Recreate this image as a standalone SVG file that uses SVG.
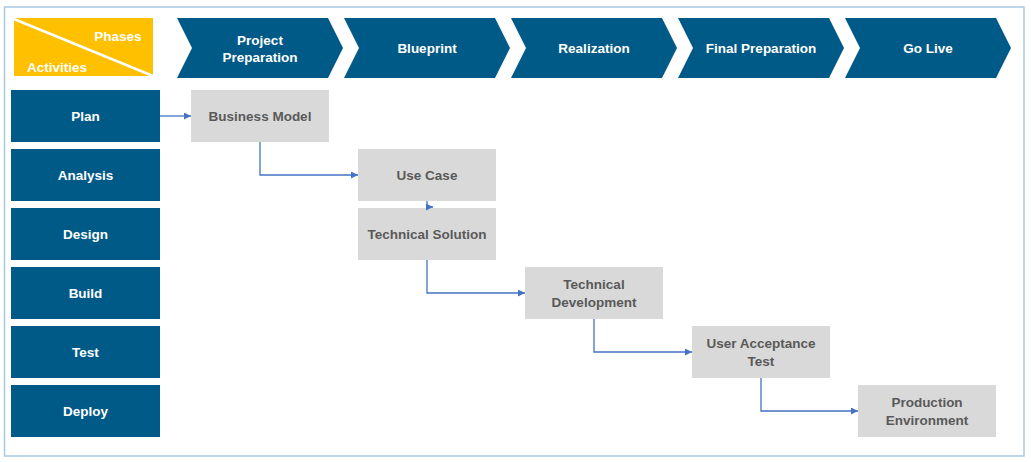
<svg xmlns="http://www.w3.org/2000/svg" width="1031" height="462" viewBox="0 0 1031 462">
<style>
text{font-family:"Liberation Sans",Arial,sans-serif;font-weight:bold;font-size:13.5px;text-anchor:middle;dominant-baseline:central}
.ph{fill:#005a87}
.act rect{fill:#005a87}
.w{fill:#ffffff}
.g rect{fill:#d9d9d9}
.g text{fill:#595959}
.c{fill:none;stroke:#4472c4;stroke-width:1.3}
</style>
<defs>
<marker id="ah" viewBox="0 0 10 10" refX="10" refY="5" markerWidth="7" markerHeight="7" markerUnits="userSpaceOnUse" orient="auto">
<path d="M0,0 L10,5 L0,10 z" fill="#4472c4"/>
</marker>
</defs>
<rect x="0" y="0" width="1031" height="462" fill="#ffffff"/>
<rect x="4.5" y="7" width="1019.5" height="449" fill="none" stroke="#a9c9e0" stroke-width="1.5"/>
<g id="corner">
<rect x="14" y="18" width="139" height="58" fill="#ffc000"/>
<line x1="14" y1="19" x2="153" y2="76" stroke="#ffffff" stroke-width="2.5"/>
<text class="w" x="118" y="36">Phases</text>
<text class="w" x="57" y="67">Activities</text>
</g>
<g id="phase1"><path class="ph" d="M177,18 H328 L343,48 L328,78 H177 L192,48 Z"/><text class="w" x="260" y="40">Project</text><text class="w" x="260" y="57">Preparation</text></g>
<g id="phase2"><path class="ph" d="M344,18 H495 L510,48 L495,78 H344 L359,48 Z"/><text class="w" x="427" y="48">Blueprint</text></g>
<g id="phase3"><path class="ph" d="M511,18 H662 L677,48 L662,78 H511 L526,48 Z"/><text class="w" x="594" y="48">Realization</text></g>
<g id="phase4"><path class="ph" d="M678,18 H829 L844,48 L829,78 H678 L693,48 Z"/><text class="w" x="761" y="48">Final Preparation</text></g>
<g id="phase5"><path class="ph" d="M845,18 H996 L1011,48 L996,78 H845 L860,48 Z"/><text class="w" x="928" y="48">Go Live</text></g>
<g id="plan" class="act"><rect x="11" y="90" width="149" height="52"/><text class="w" x="85.5" y="116">Plan</text></g>
<g id="analysis" class="act"><rect x="11" y="149" width="149" height="52"/><text class="w" x="85.5" y="175">Analysis</text></g>
<g id="design" class="act"><rect x="11" y="208" width="149" height="52"/><text class="w" x="85.5" y="234">Design</text></g>
<g id="build" class="act"><rect x="11" y="267" width="149" height="52"/><text class="w" x="85.5" y="293">Build</text></g>
<g id="test" class="act"><rect x="11" y="326" width="149" height="52"/><text class="w" x="85.5" y="352">Test</text></g>
<g id="deploy" class="act"><rect x="11" y="385" width="149" height="52"/><text class="w" x="85.5" y="411">Deploy</text></g>
<g id="business-model" class="g"><rect x="191" y="90" width="138" height="52"/><text x="260" y="116">Business Model</text></g>
<g id="use-case" class="g"><rect x="358" y="149" width="138" height="52"/><text x="427" y="175">Use Case</text></g>
<g id="technical-solution" class="g"><rect x="358" y="208" width="138" height="52"/><text x="427" y="234">Technical Solution</text></g>
<g id="technical-development" class="g"><rect x="525" y="267" width="138" height="52"/><text x="594" y="284">Technical</text><text x="594" y="302">Development</text></g>
<g id="user-acceptance-test" class="g"><rect x="692" y="326" width="138" height="52"/><text x="761" y="343">User Acceptance</text><text x="761" y="361">Test</text></g>
<g id="production-environment" class="g"><rect x="858" y="385" width="138" height="52"/><text x="927" y="402">Production</text><text x="927" y="420">Environment</text></g>
<g id="connectors">
<path class="c" d="M160,116 H191" marker-end="url(#ah)"/>
<path class="c" d="M260,142 V175 H358" marker-end="url(#ah)"/>
<path class="c" d="M427,201 V207 H433" marker-end="url(#ah)"/>
<path class="c" d="M427,260 V293 H525" marker-end="url(#ah)"/>
<path class="c" d="M594,319 V352 H692" marker-end="url(#ah)"/>
<path class="c" d="M761,378 V411 H858" marker-end="url(#ah)"/>
</g>
</svg>
